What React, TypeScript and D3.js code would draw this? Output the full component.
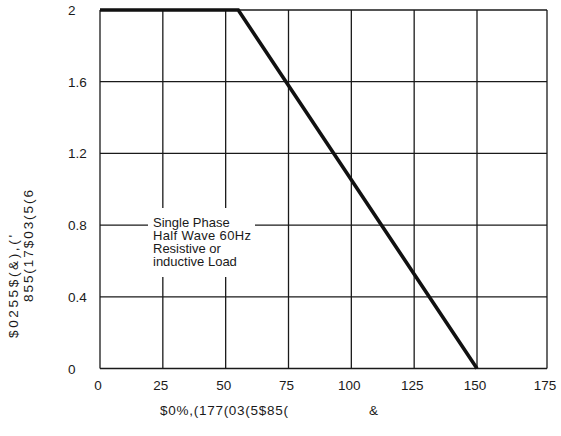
import { useEffect, useRef } from 'react'
import * as d3 from 'd3'

// derating curve: ambient temperature (°C) vs average forward current (A)
const temperature = [0, 55, 150]
const current = [2, 2, 0]

const xTicks = [0, 25, 50, 75, 100, 125, 150, 175]
const yTicks = [0, 0.4, 0.8, 1.2, 1.6, 2]

const noteLines = ['Single Phase', 'Half Wave 60Hz', 'Resistive or', 'inductive Load']

// axis titles as they appear in the picture (font-encoded glyphs)
const xTitle = '$0%,(177(03(5$85('
const xTitleUnit = '&'
const yTitleLines = ['$0255$(&),(\'', '855(17$03(5(6']

const FONT = 'Liberation Sans, Arial, Helvetica, sans-serif'

export default function App() {
  const svgRef = useRef<SVGSVGElement>(null)

  useEffect(() => {
    if (!svgRef.current) return
    const svg = d3.select(svgRef.current)
    svg.selectAll('*').remove()

    const width = 561
    const height = 436

    // grid in the source is slightly wider in the last column
    const x = d3.scaleLinear().domain([0, 150, 175]).range([100, 477, 547])
    const y = d3.scaleLinear().domain([0, 2]).range([368.5, 10])

    svg.attr('width', width).attr('height', height)

    svg.append('rect')
      .attr('width', width)
      .attr('height', height)
      .attr('fill', '#fff')

    const grid = svg.append('g')
      .attr('stroke', '#1a1a1a')
      .attr('stroke-width', 1.3)

    grid.selectAll('line.v')
      .data(xTicks)
      .join('line')
      .attr('class', 'v')
      .attr('x1', d => x(d))
      .attr('x2', d => x(d))
      .attr('y1', y(0))
      .attr('y2', y(2))

    grid.selectAll('line.h')
      .data(yTicks)
      .join('line')
      .attr('class', 'h')
      .attr('x1', x(0))
      .attr('x2', x(175))
      .attr('y1', d => y(d))
      .attr('y2', d => y(d))

    // white box behind the note
    svg.append('rect')
      .attr('x', 148)
      .attr('y', 208)
      .attr('width', 107)
      .attr('height', 69)
      .attr('fill', '#fff')

    const note = svg.append('text')
      .attr('x', 153)
      .attr('y', 226.5)
      .attr('font-family', FONT)
      .attr('font-size', 13)
      .attr('fill', '#1a1a1a')

    note.selectAll('tspan')
      .data(noteLines)
      .join('tspan')
      .attr('x', 153)
      .attr('dy', (_, i) => (i === 0 ? 0 : 13))
      .attr('textLength', d => (d === 'Half Wave 60Hz' ? 98 : null))
      .text(d => d)

    // derating line
    const line = d3.line<number>()
      .x(d => x(d))
      .y((_, i) => y(current[i]))

    svg.append('path')
      .datum(temperature)
      .attr('d', line)
      .attr('fill', 'none')
      .attr('stroke', '#111')
      .attr('stroke-width', 3.6)
      .attr('stroke-linejoin', 'miter')

    // tick labels
    svg.append('g')
      .selectAll('text')
      .data(xTicks)
      .join('text')
      .attr('x', d => x(d) - 2)
      .attr('y', 390)
      .attr('text-anchor', 'middle')
      .attr('font-family', FONT)
      .attr('font-size', 13.5)
      .attr('fill', '#1a1a1a')
      .text(d => d)

    svg.append('g')
      .selectAll('text')
      .data(yTicks)
      .join('text')
      .attr('x', 68)
      .attr('y', d => y(d) + 5)
      .attr('font-family', FONT)
      .attr('font-size', 13.5)
      .attr('fill', '#1a1a1a')
      .text(d => (d === 0 || d === 2 ? String(d) : d.toFixed(1)))

    // axis titles
    svg.append('text')
      .attr('x', 160)
      .attr('y', 415)
      .attr('font-family', FONT)
      .attr('font-size', 13.5)
      .attr('fill', '#1a1a1a')
      .attr('textLength', 128)
      .attr('lengthAdjust', 'spacing')
      .text(xTitle)

    svg.append('text')
      .attr('x', 369)
      .attr('y', 415)
      .attr('font-family', FONT)
      .attr('font-size', 13.5)
      .attr('fill', '#1a1a1a')
      .text(xTitleUnit)

    const yTitlePos = [
      { bx: 18, start: 338, len: 103 },
      { bx: 33, start: 302, len: 112 },
    ]
    yTitleLines.forEach((t, i) => {
      const p = yTitlePos[i]
      svg.append('text')
        .attr('transform', `translate(${p.bx},${p.start}) rotate(-90)`)
        .attr('font-family', FONT)
        .attr('font-size', 13.5)
        .attr('fill', '#1a1a1a')
        .attr('textLength', p.len)
        .attr('lengthAdjust', 'spacing')
        .text(t)
    })
  }, [])

  return (
    <div style={{ position: 'absolute', left: 0, top: 0 }}>
      <svg ref={svgRef} style={{ display: 'block' }} />
    </div>
  )
}
